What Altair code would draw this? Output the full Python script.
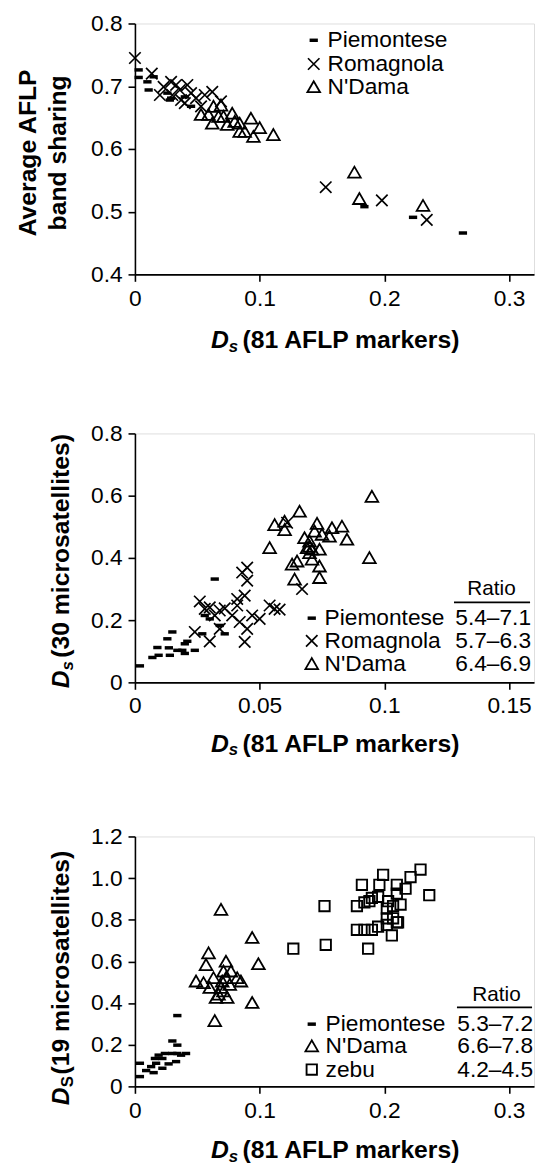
import altair as alt
import pandas as pd

FONT = "Liberation Sans"

# ---------------- Panel 1: band sharing vs Ds (AFLP) ----------------
p1_pie_x = [0.003, 0.003, 0.010, 0.011, 0.015, 0.026, 0.029, 0.028, 0.040, 0.045, 0.184, 0.223, 0.263]
p1_pie_y = [0.726, 0.714, 0.707, 0.694, 0.715, 0.689, 0.681, 0.678, 0.683, 0.668, 0.508, 0.491, 0.466]
p1_rom_x = [0.000, 0.0135, 0.023, 0.029, 0.033, 0.020, 0.042, 0.040, 0.045, 0.049, 0.062, 0.069,
            0.053, 0.036, 0.030, 0.056, 0.037, 0.153, 0.198, 0.234]
p1_rom_y = [0.745, 0.720, 0.699, 0.707, 0.702, 0.686, 0.702, 0.673, 0.689, 0.681, 0.691, 0.676,
            0.668, 0.694, 0.686, 0.686, 0.678, 0.539, 0.518, 0.487]
p1_nda_x = [0.053, 0.059, 0.063, 0.069, 0.067, 0.074, 0.078, 0.080, 0.084, 0.088, 0.093, 0.095,
            0.100, 0.111, 0.071, 0.062, 0.084, 0.176, 0.180, 0.231]
p1_nda_y = [0.655, 0.655, 0.668, 0.670, 0.652, 0.639, 0.657, 0.644, 0.628, 0.628, 0.649, 0.620,
            0.634, 0.623, 0.652, 0.641, 0.641, 0.563, 0.521, 0.510]

# ---------------- Panel 2: Ds (30 microsatellites) vs Ds (AFLP) ----------------
p2_pie_x = [0.002, 0.007, 0.009, 0.0095, 0.013, 0.015, 0.0136, 0.014, 0.019, 0.020, 0.020, 0.021,
            0.024, 0.027, 0.028, 0.030, 0.032, 0.036, 0.034, 0.017]
p2_pie_y = [0.053, 0.080, 0.112, 0.087, 0.140, 0.162, 0.111, 0.087, 0.103, 0.093, 0.124, 0.132,
            0.103, 0.156, 0.215, 0.204, 0.332, 0.156, 0.183, 0.103]
p2_rom_x = [0.026, 0.024, 0.030, 0.028, 0.030, 0.034, 0.034, 0.036, 0.041, 0.041, 0.042, 0.043,
            0.045, 0.045, 0.044, 0.044, 0.045, 0.047, 0.050, 0.054, 0.056, 0.058, 0.061, 0.067,
            0.032, 0.039]
p2_rom_y = [0.260, 0.162, 0.132, 0.236, 0.241, 0.172, 0.231, 0.238, 0.247, 0.268, 0.194, 0.353,
            0.369, 0.327, 0.279, 0.130, 0.172, 0.215, 0.204, 0.247, 0.236, 0.234, 0.513, 0.300,
            0.215, 0.215]
p2_nda_x = [0.054, 0.056, 0.060, 0.060, 0.066, 0.063, 0.065, 0.064, 0.068, 0.069, 0.070, 0.070,
            0.072, 0.073, 0.071, 0.074, 0.074, 0.074, 0.075, 0.078, 0.079, 0.083, 0.085, 0.095,
            0.094, 0.070, 0.071]
p2_nda_y = [0.433, 0.507, 0.518, 0.491, 0.550, 0.380, 0.390, 0.332, 0.465, 0.433, 0.417, 0.454,
            0.486, 0.511, 0.396, 0.428, 0.374, 0.337, 0.476, 0.470, 0.497, 0.502, 0.460, 0.598,
            0.401, 0.438, 0.428]

# ---------------- Panel 3: Ds (19 microsatellites) vs Ds (AFLP) ----------------
p3_pie_x = [0.004, 0.004, 0.009, 0.013, 0.015, 0.017, 0.019, 0.022, 0.024, 0.022, 0.027, 0.030,
            0.033, 0.034, 0.030, 0.034, 0.037, 0.041, 0.016, 0.034]
p3_pie_y = [0.047, 0.111, 0.076, 0.095, 0.066, 0.111, 0.150, 0.134, 0.158, 0.087, 0.108, 0.158,
            0.119, 0.340, 0.218, 0.198, 0.150, 0.158, 0.134, 0.158]
p3_nda_x = [0.069, 0.094, 0.099, 0.059, 0.057, 0.049, 0.055, 0.060, 0.063, 0.065, 0.064, 0.073,
            0.071, 0.070, 0.071, 0.074, 0.076, 0.069, 0.077, 0.082, 0.085, 0.094, 0.073, 0.067]
p3_nda_y = [0.850, 0.715, 0.589, 0.641, 0.585, 0.506, 0.498, 0.475, 0.522, 0.427, 0.316, 0.601,
            0.554, 0.506, 0.459, 0.427, 0.490, 0.475, 0.554, 0.522, 0.506, 0.403, 0.522, 0.443]
p3_zeb_x = [0.127, 0.153, 0.152, 0.187, 0.178, 0.184, 0.190, 0.195, 0.178, 0.182, 0.184, 0.188,
            0.190, 0.195, 0.199, 0.196, 0.202, 0.202, 0.203, 0.206, 0.207, 0.210, 0.210, 0.210,
            0.211, 0.213, 0.217, 0.221, 0.229, 0.236, 0.202, 0.207]
p3_zeb_y = [0.661, 0.680, 0.866, 0.661, 0.752, 0.752, 0.752, 0.767, 0.866, 0.968, 0.883, 0.889,
            0.905, 0.910, 1.016, 0.968, 0.854, 0.807, 0.889, 0.725, 0.866, 0.968, 0.926, 0.788,
            0.788, 0.873, 0.949, 1.005, 1.041, 0.918, 0.775, 0.807]

# legend texts
leg1 = ["Piemontese", "Romagnola", "N'Dama"]
leg2 = ["Piemontese", "Romagnola", "N'Dama"]
ratio2 = ["5.4\u20137.1", "5.7\u20136.3", "6.4\u20136.9"]
leg3 = ["Piemontese", "N'Dama", "zebu"]
ratio3 = ["5.3\u20137.2", "6.6\u20137.8", "4.2\u20134.5"]

W = 404
H = 254
TF = 25   # title font size
SF = 17   # subscript font size

DASH = "M-1,-0.42L1,-0.42L1,0.42L-1,0.42Z"
XSHAPE = "M-1,-1L1,1M-1,1L1,-1"

STY = {
    "dash": dict(shape=DASH, filled=True, size=70, color="black", strokeWidth=0, opacity=1),
    "x": dict(shape=XSHAPE, filled=False, size=135, color="black", strokeWidth=1.7, opacity=1),
    "tri": dict(shape="triangle-up", filled=False, size=165, color="black", strokeWidth=1.8, opacity=1),
    "sq": dict(shape="square", filled=False, size=110, color="black", strokeWidth=1.9, opacity=1),
}

one = pd.DataFrame({"a": [0]})


def pts(xs, ys, kind, xsc, ysc, xaxis=None, yaxis=None):
    df = pd.DataFrame({"x": xs, "y": ys})
    return alt.Chart(df).mark_point(**STY[kind]).encode(
        x=alt.X("x:Q", scale=xsc, axis=xaxis),
        y=alt.Y("y:Q", scale=ysc, axis=yaxis),
    )


def txt(s, x, y, size=23, weight="normal", style="normal", align="left", angle=0, baseline="middle"):
    return alt.Chart(one).mark_text(
        text=s, fontSize=size, font=FONT, fontWeight=weight, fontStyle=style,
        align=align, baseline=baseline, angle=angle, color="black"
    ).encode(x=alt.value(x), y=alt.value(y))


def sym(kind, x, y):
    return alt.Chart(one).mark_point(**STY[kind]).encode(x=alt.value(x), y=alt.value(y))


def rule(x1, x2, y):
    return alt.Chart(one).mark_rule(color="black", strokeWidth=1.6).encode(
        x=alt.value(x1), x2=alt.value(x2), y=alt.value(y))


def axis(values, fmt=None, expr=None):
    kw = dict(values=values, title=None, grid=False, domainColor="black", domainWidth=1.6,
              tickColor="black", tickWidth=1.6, tickSize=7, labelFont=FONT, labelFontSize=23,
              labelColor="black", labelPadding=6, labelFlush=False, labelOverlap=False)
    if fmt:
        kw["format"] = fmt
    if expr:
        kw["labelExpr"] = expr
    return alt.Axis(**kw)


def xtitle(h, off):
    y = h + off
    return [
        txt("D", 77, y, size=TF, weight="bold", style="italic"),
        txt("s", 95, y + 7, size=SF, weight="bold", style="italic"),
        txt("(81 AFLP markers)", 109, y, size=TF, weight="bold"),
    ]


def ytitle_ds(y0, label, sub="s", substyle="italic"):
    x = -75
    return [
        txt("D", x, y0, size=TF, weight="bold", style="italic", angle=270),
        txt(sub, x + 7, y0 - 18, size=SF, weight="bold", style=substyle, angle=270),
        txt(label, x, y0 - 31, size=TF, weight="bold", angle=270),
    ]


# ---------------- Panel 1 ----------------
xs1 = alt.Scale(domain=[0, 0.32], nice=False, zero=False)
ys1 = alt.Scale(domain=[0.4, 0.8], nice=False, zero=False)
ax1 = axis([0, 0.1, 0.2, 0.3], fmt="~g")
ay1 = axis([0.4, 0.5, 0.6, 0.7, 0.8], fmt=".1f")
layers1 = [
    pts(p1_pie_x, p1_pie_y, "dash", xs1, ys1, ax1, ay1),
    pts(p1_rom_x, p1_rom_y, "x", xs1, ys1, ax1, ay1),
    pts(p1_nda_x, p1_nda_y, "tri", xs1, ys1, ax1, ay1),
]
kinds1 = ["dash", "x", "tri"]
rows1 = [17, 41, 64]
for k, lab, yy in zip(kinds1, leg1, rows1):
    layers1 += [sym(k, 181, yy), txt(lab, 195, yy)]
layers1 += [
    txt("Average AFLP", -108, 131, size=TF, weight="bold", align="center", angle=270),
    txt("band sharing", -78, 131, size=TF, weight="bold", align="center", angle=270),
]
layers1 += xtitle(H, 67)
panel1 = alt.layer(*layers1).properties(width=W, height=H)

# ---------------- Panel 2 ----------------
H2 = 252
xs2 = alt.Scale(domain=[0, 0.16], nice=False, zero=False)
ys2 = alt.Scale(domain=[0, 0.8], nice=False, zero=False)
ax2 = axis([0, 0.05, 0.1, 0.15], fmt="~g")
ay2 = axis([0, 0.2, 0.4, 0.6, 0.8], fmt="~g")
layers2 = [
    pts(p2_pie_x, p2_pie_y, "dash", xs2, ys2, ax2, ay2),
    pts(p2_rom_x, p2_rom_y, "x", xs2, ys2, ax2, ay2),
    pts(p2_nda_x, p2_nda_y, "tri", xs2, ys2, ax2, ay2),
]
rows2 = [187, 210, 233]
for k, lab, r, yy in zip(kinds1, leg2, ratio2, rows2):
    layers2 += [sym(k, 179, yy), txt(lab, 192, yy), txt(r, 401, yy, align="right")]
layers2 += [txt("Ratio", 361, 158, size=21, align="center"), rule(323, 400, 171)]
layers2 += ytitle_ds(258, "(30 microsatellites)")
layers2 += xtitle(H2, 62)
panel2 = alt.layer(*layers2).properties(width=W, height=H2)

# ---------------- Panel 3 ----------------
H3 = 253
xs3 = alt.Scale(domain=[0, 0.32], nice=False, zero=False)
ys3 = alt.Scale(domain=[0, 1.2], nice=False, zero=False)
ax3 = axis([0, 0.1, 0.2, 0.3], fmt="~g")
ay3 = axis([0, 0.2, 0.4, 0.6, 0.8, 1.0, 1.2],
           expr="datum.value == 0 ? '0' : format(datum.value, '.1f')")
layers3 = [
    pts(p3_pie_x, p3_pie_y, "dash", xs3, ys3, ax3, ay3),
    pts(p3_nda_x, p3_nda_y, "tri", xs3, ys3, ax3, ay3),
    pts(p3_zeb_x, p3_zeb_y, "sq", xs3, ys3, ax3, ay3),
]
kinds3 = ["dash", "tri", "sq"]
rows3 = [190, 212, 236]
for k, lab, r, yy in zip(kinds3, leg3, ratio3, rows3):
    layers3 += [sym(k, 179, yy), txt(lab, 193, yy), txt(r, 403, yy, align="right")]
layers3 += [txt("Ratio", 366, 161, size=21, align="center"), rule(326, 402, 173)]
layers3 += ytitle_ds(272, "(19 microsatellites)", sub="S", substyle="normal")
layers3 += xtitle(H3, 65)
panel3 = alt.layer(*layers3).properties(width=W, height=H3)

chart = alt.vconcat(panel1, panel2, panel3, spacing=66).properties(
    padding={"left": 7.5, "top": -3.5, "right": 0, "bottom": 0}
).configure_view(stroke=None).configure(background="white")

chart.save("out.html", embed_options={"renderer": "svg", "actions": False})
